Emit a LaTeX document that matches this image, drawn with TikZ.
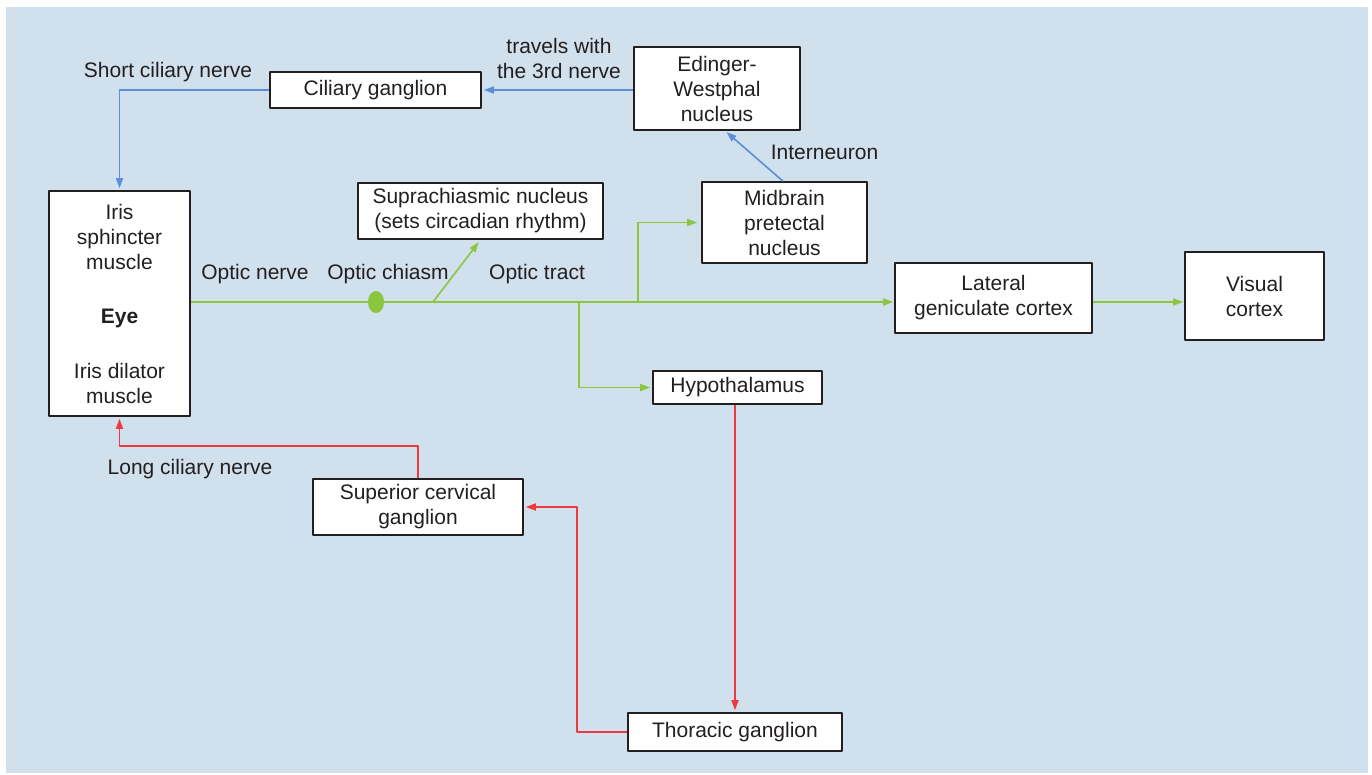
\documentclass[tikz,border=0pt]{standalone}
\usepackage{fontspec}
\setmainfont{Liberation Sans}
\usetikzlibrary{arrows.meta}
\definecolor{bgblue}{HTML}{D0E0EC}
\definecolor{ink}{HTML}{231F20}
\definecolor{optgreen}{HTML}{8CC63F}
\definecolor{parablue}{HTML}{5B8ED6}
\definecolor{symred}{HTML}{EE3A3F}
\tikzset{
	box/.style 2 args={draw=ink,fill=white,line width=1.6pt,text=ink,align=center,inner sep=0pt,minimum width=#1,minimum height=#2},
	lbl/.style={text=ink,align=center,inner sep=0pt},
	optic/.style={draw=optgreen,line width=1.6pt},
	para/.style={draw=parablue,line width=1.6pt},
	sym/.style={draw=symred,line width=1.6pt}
}
\begin{document}
\begin{tikzpicture}[x=1pt,y=-1pt,line join=round,>={Triangle[length=10pt,width=7pt]},every node/.style={font=\fontsize{21}{25}\selectfont}]
\fill[white] (0,0) rectangle (1372,774);
\fill[bgblue] (6,7) rectangle (1368,773);
\useasboundingbox (0,0) rectangle (1372,774);
% boxes
\node[box={141pt}{225pt}] (eye) at (119.5,303.5) {Iris\\sphincter\\muscle\\[29pt]\textbf{Eye}\\[30pt]Iris dilator\\muscle};
\node[box={211pt}{36pt}] (cg) at (375.5,90) {Ciliary ganglion};
\node[box={166pt}{83pt}] (ew) at (717,88.5) {Edinger-\\Westphal\\nucleus};
\node[box={165pt}{81pt}] (mpn) at (784.5,222.5) {Midbrain\\pretectal\\nucleus};
\node[box={245pt}{56pt}] (scn) at (480.5,211) {Suprachiasmic nucleus\\(sets circadian rhythm)};
\node[box={197pt}{70pt}] (lgc) at (993.5,298) {Lateral\\geniculate cortex};
\node[box={139pt}{88pt}] (vc) at (1254.5,296) {Visual\\cortex};
\node[box={169pt}{33pt}] (hyp) at (737.5,387.5) {Hypothalamus};
\node[box={210pt}{56pt}] (scg) at (418,507) {Superior cervical\\ganglion};
\node[box={214pt}{38pt}] (tg) at (735,732) {Thoracic ganglion};
% labels
\node[lbl,anchor=base] (scnlbl) at (168,77) {Short ciliary nerve};
\node[lbl] (thirdlbl) at (559,58) {travels with\\the 3rd nerve};
\node[lbl,anchor=base] (interlbl) at (824.5,159) {Interneuron};
\node[lbl,anchor=base] (onlbl) at (255,279) {Optic nerve};
\node[lbl,anchor=base] (oclbl) at (388,279) {Optic chiasm};
\node[lbl,anchor=base] (otlbl) at (537,279) {Optic tract};
\node[lbl,anchor=base] (lcnlbl) at (190,474) {Long ciliary nerve};
% optic pathway
\coordinate (chiasm) at (376,302);
\coordinate (scnfork) at (433,302);
\coordinate (hypfork) at (579,302);
\coordinate (mpnfork) at (638,302);
\draw[optic,->,shorten >=1pt] (eye.east |- chiasm) -- (chiasm) -- (lgc.west |- chiasm);
\fill[optgreen] (chiasm) ellipse (8 and 11);
\draw[optic,->,shorten >=3pt] (scnfork) -- (scn.south);
\draw[optic,->,shorten >=4pt] (mpnfork) |- (mpn.west);
\draw[optic,->,shorten >=2pt] (hypfork) |- (hyp.west);
\draw[optic,->,shorten >=1pt] (lgc.east |- chiasm) -- (vc.west |- chiasm);
% parasympathetic
\draw[para,->,shorten >=2pt] (ew.west |- cg.east) -- (cg.east);
\draw[para,->,shorten >=2pt] (cg.west) -| (eye.north);
\draw[para,->,shorten >=2pt] ([xshift=-1.5pt]mpn.north) -- ([xshift=8pt]ew.south);
% sympathetic
\draw[sym,->,shorten >=2pt] (hyp.south -| tg.north) -- (tg.north);
\draw[sym,->,shorten >=2pt] (tg.west) -- ++(-50,0) |- (scg.east);
\draw[sym,->,shorten >=2pt] (scg.north) -- ++(0,-32) -| (eye.south);
\end{tikzpicture}
\end{document}
